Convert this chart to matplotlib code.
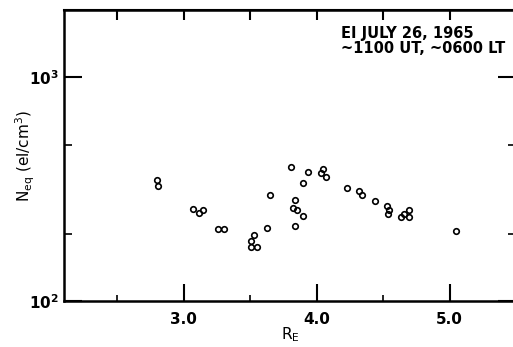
import matplotlib.pyplot as plt
import matplotlib.ticker as mticker

plt.rcParams.update({'font.size': 11, 'font.weight': 'bold', 'mathtext.default': 'regular'})

# Equatorial electron density vs radial distance
r_e = [2.797, 2.81, 3.07, 3.115, 3.145, 3.258, 3.303, 3.53, 3.51, 3.506, 3.554,
       3.624, 3.649, 3.81, 3.837, 3.822, 3.85, 3.897, 3.837, 3.90, 3.932,
       4.05, 4.035, 4.068, 4.231, 4.318, 4.338, 4.441, 4.531, 4.544, 4.536,
       4.632, 4.657, 4.692, 4.692, 5.045]
n_eq = [347, 326, 259, 248, 254, 210, 210, 198, 186, 175, 174,
        211, 299, 397, 284, 261, 254, 241, 216, 338, 376,
        389, 372, 359, 320, 311, 297, 279, 266, 256, 245,
        237, 246, 255, 238, 206]

x_major = [3.0, 4.0, 5.0]
x_minor = [2.5, 3.5, 4.5]
x_top = [2.5, 3.0, 3.5, 4.0, 4.5, 5.0]
y_major = [100, 1000]
y_minor = [200, 500]

fig = plt.figure(figsize=(5.13, 3.47), dpi=100)
ax = fig.add_axes([64 / 513, 46 / 347, 452 / 513, 291 / 347])

ax.plot(r_e, n_eq, 'o', mfc='none', mec='black', ms=4, mew=1.2)

ax.set_yscale('log')
ax.set_xlim(2.1, 5.5)
ax.set_ylim(100, 2000)

ax.xaxis.set_major_locator(mticker.FixedLocator(x_major))
ax.xaxis.set_minor_locator(mticker.FixedLocator(x_minor))
ax.xaxis.set_major_formatter(mticker.FixedFormatter(['3.0', '4.0', '5.0']))
ax.yaxis.set_major_locator(mticker.FixedLocator(y_major))
ax.yaxis.set_minor_locator(mticker.FixedLocator(y_minor))
ax.yaxis.set_major_formatter(mticker.FixedFormatter([r'$10^2$', r'$10^3$']))
ax.yaxis.set_minor_formatter(mticker.NullFormatter())

ax.tick_params(axis='x', which='major', direction='in', length=12, width=1.5, pad=8)
ax.tick_params(axis='x', which='minor', direction='in', length=4.5, width=1.2)
ax.tick_params(axis='y', which='major', direction='in', length=13, width=1.5,
               right=True, pad=4)
ax.tick_params(axis='y', which='minor', direction='in', length=6, width=1.2, right=True)

top = ax.secondary_xaxis('top')
top.set_xticks(x_top)
top.tick_params(direction='in', length=7, width=1.5, labeltop=False)
top.xaxis.set_minor_locator(mticker.NullLocator())
top.spines['top'].set_linewidth(1.5)

for s in ax.spines.values():
    s.set_linewidth(1.8)
ax.spines['right'].set_visible(False)

ax.set_xlabel(r'R$_E$', fontsize=11)
ax.set_ylabel(r'N$_{eq}$ (el/cm$^3$)', fontsize=11)
ax.xaxis.set_label_coords(0.5, -0.085)
ax.yaxis.set_label_coords(-0.06, 0.5)

fig.text(341 / 513, 1 - 26 / 347, 'EI JULY 26, 1965\n~1100 UT, ~0600 LT',
         ha='left', va='top', fontsize=10.5, linespacing=1.0)

fig.savefig('out.png', dpi=100)
